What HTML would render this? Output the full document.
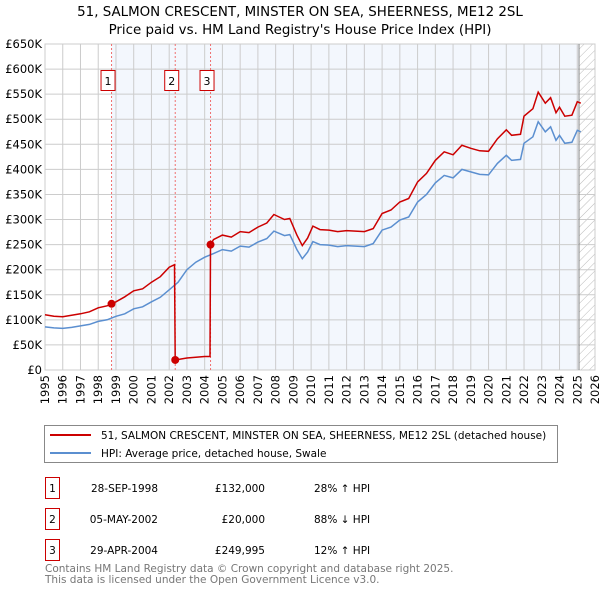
<!DOCTYPE html>
<html><head><meta charset="utf-8"><style>
body{margin:0;background:#fff;}
svg{display:block;font-family:"DejaVu Sans","Liberation Sans",sans-serif;}
</style></head><body>
<svg id="chart" width="600" height="590" viewBox="0 0 600 590">
<defs>
<pattern id="hatch" width="6" height="6" patternUnits="userSpaceOnUse" patternTransform="rotate(45)">
<line x1="0" y1="0" x2="0" y2="6" stroke="#bbb" stroke-width="1"/>
</pattern>
</defs>
<text x="300" y="16" text-anchor="middle" font-size="13.4" fill="#000">51, SALMON CRESCENT, MINSTER ON SEA, SHEERNESS, ME12 2SL</text>
<text x="300" y="34" text-anchor="middle" font-size="13.4" fill="#000">Price paid vs. HM Land Registry's House Price Index (HPI)</text>
<g id="plot"></g>
<g>
<rect x="44.5" y="425.5" width="513" height="37" fill="#fff" stroke="#888"/>
<line x1="50" y1="435" x2="91" y2="435" stroke="#cc0000" stroke-width="2"/>
<text x="101" y="439" font-size="10.5">51, SALMON CRESCENT, MINSTER ON SEA, SHEERNESS, ME12 2SL (detached house)</text>
<line x1="50" y1="453" x2="91" y2="453" stroke="#5b8fd0" stroke-width="2"/>
<text x="101" y="457" font-size="10.5">HPI: Average price, detached house, Swale</text>
</g>
<g font-size="10.5">
<rect x="45.5" y="477.5" width="14" height="21" fill="#fff" stroke="#cc0000"/>
<text x="52.5" y="492" text-anchor="middle">1</text>
<text x="158" y="492" text-anchor="end">28-SEP-1998</text>
<text x="265" y="492" text-anchor="end">£132,000</text>
<text x="314" y="492">28% ↑ HPI</text>
<rect x="45.5" y="508.5" width="14" height="21" fill="#fff" stroke="#cc0000"/>
<text x="52.5" y="523" text-anchor="middle">2</text>
<text x="158" y="523" text-anchor="end">05-MAY-2002</text>
<text x="265" y="523" text-anchor="end">£20,000</text>
<text x="314" y="523">88% ↓ HPI</text>
<rect x="45.5" y="539.5" width="14" height="21" fill="#fff" stroke="#cc0000"/>
<text x="52.5" y="554" text-anchor="middle">3</text>
<text x="158" y="554" text-anchor="end">29-APR-2004</text>
<text x="265" y="554" text-anchor="end">£249,995</text>
<text x="314" y="554">12% ↑ HPI</text>
</g>
<text x="45" y="572" font-size="10.5" fill="#777">Contains HM Land Registry data © Crown copyright and database right 2025.</text>
<text x="45" y="583" font-size="10.5" fill="#777">This data is licensed under the Open Government Licence v3.0.</text>
</svg>
<script>
const hpiDates=[1995,1995.5,1996,1996.5,1997,1997.5,1998,1998.5,1999,1999.5,2000,2000.5,2001,2001.5,2002,2002.5,2003,2003.5,2004,2004.5,2005,2005.5,2006,2006.5,2007,2007.5,2007.9,2008.5,2008.8,2009.2,2009.5,2009.8,2010.1,2010.5,2011,2011.5,2012,2012.5,2013,2013.5,2014,2014.5,2015,2015.5,2016,2016.5,2017,2017.5,2018,2018.5,2019,2019.5,2020,2020.5,2021,2021.3,2021.8,2022,2022.5,2022.8,2023.2,2023.5,2023.8,2024,2024.3,2024.7,2025,2025.2];
const hpiValues=[86,84,83,85,88,91,97,100,107,112,122,126,136,145,160,175,200,215,225,232,240,237,247,245,255,262,277,268,270,240,222,235,256,250,249,246,248,247,246,252,279,285,299,305,335,350,373,388,383,400,395,390,389,412,428,418,420,452,465,495,475,485,458,468,452,454,478,475];
const priceDates=[1995,1995.5,1996,1996.5,1997,1997.5,1998,1998.5,1998.75,1999,1999.5,2000,2000.5,2001,2001.5,2002,2002.3,2002.34,2003,2004,2004.3,2004.33,2004.5,2005,2005.5,2006,2006.5,2007,2007.5,2007.9,2008.5,2008.8,2009.2,2009.5,2009.8,2010.1,2010.5,2011,2011.5,2012,2012.5,2013,2013.5,2014,2014.5,2015,2015.5,2016,2016.5,2017,2017.5,2018,2018.5,2019,2019.5,2020,2020.5,2021,2021.3,2021.8,2022,2022.5,2022.8,2023.2,2023.5,2023.8,2024,2024.3,2024.7,2025,2025.2];
const priceValues=[110,107,106,109,112,116,124,128,132,136,146,158,162,175,186,205,210,20,24,27,27,250,260,269,265,276,274,285,293,310,300,302,269,248,263,287,280,279,276,278,277,276,282,312,319,335,342,375,392,418,435,429,448,442,437,436,461,479,468,470,506,521,554,532,543,513,524,506,508,535,532];
const saleDates=[1998.75,2002.34,2004.33];
const saleValues=[132,20,250];
const saleLabels=["1","2","3"];
const yTicks=[0,50,100,150,200,250,300,350,400,450,500,550,600,650];
const yTickLabels=["£0","£50K","£100K","£150K","£200K","£250K","£300K","£350K","£400K","£450K","£500K","£550K","£600K","£650K"];
const xTicks=[1995,1996,1997,1998,1999,2000,2001,2002,2003,2004,2005,2006,2007,2008,2009,2010,2011,2012,2013,2014,2015,2016,2017,2018,2019,2020,2021,2022,2023,2024,2025,2026];

const L=45,R=595,T=44,B=370,X0=1995,X1=2026,YMAX=650;
const xs=v=>L+(v-X0)/(X1-X0)*(R-L);
const ys=v=>B-v/YMAX*(B-T);
const NS="http://www.w3.org/2000/svg";
const g=document.getElementById('plot');
function mk(tag,attrs,parent){const e=document.createElementNS(NS,tag);for(const k in attrs)e.setAttribute(k,attrs[k]);(parent||g).appendChild(e);return e;}

const shade=mk('rect',{x:xs(saleDates[0]),y:T,width:xs(2025.1)-xs(saleDates[0]),height:B-T,fill:'#eef3fc',opacity:0.7});


const hatch=mk('rect',{x:xs(2025.1),y:T,width:R-xs(2025.1),height:B-T,fill:'url(#hatch)'});



yTicks.forEach((v,i)=>{
  const ln=mk('line',{x1:L,x2:R,y1:ys(v),y2:ys(v),stroke:'#ccc','stroke-width':1});
  
  
  const t=mk('text',{x:L-3,y:ys(v)+4,'text-anchor':'end','font-size':11.5});
  t.textContent=yTickLabels[i];
  
  
});
xTicks.forEach(v=>{
  const ln=mk('line',{x1:xs(v),x2:xs(v),y1:T,y2:B,stroke:'#ccc','stroke-width':1});
  
  
  const t=mk('text',{x:0,y:0,'text-anchor':'end','font-size':11.5,transform:`translate(${xs(v)+4},${B+5}) rotate(-90)`});
  t.textContent=v;
  
  
});
const ax=mk('rect',{x:L,y:T,width:R-L,height:B-T,fill:'none',stroke:'#ccc'});


const nowLine=mk('line',{x1:xs(2025.1),x2:xs(2025.1),y1:T,y2:B,stroke:'#888','stroke-width':1});



saleDates.forEach((d,i)=>{
  const ln=mk('line',{x1:xs(d),x2:xs(d),y1:T,y2:B,stroke:'#f07070','stroke-width':1,'stroke-dasharray':'2,2'});
  
  
  const bx=mk('rect',{x:xs(d)-10.5,y:70.5,width:14,height:20,fill:'#fff',stroke:'#cc0000'});
  
  
  const t=mk('text',{x:xs(d)-3.5,y:85,'text-anchor':'middle','font-size':11});
  t.textContent=saleLabels[i];
  
  
});

const hp=mk('path',{d:hpiDates.map((d,i)=>(i?'L':'M')+xs(d).toFixed(1)+','+ys(hpiValues[i]).toFixed(1)).join(''),fill:'none',stroke:'#5b8fd0','stroke-width':1.5});


const pp=mk('path',{d:priceDates.map((d,i)=>(i?'L':'M')+xs(d).toFixed(1)+','+ys(priceValues[i]).toFixed(1)).join(''),fill:'none',stroke:'#cc0000','stroke-width':1.5});


saleDates.forEach((d,i)=>{
  const c=mk('circle',{cx:xs(d),cy:ys(saleValues[i]),r:4,fill:'#cc0000'});
  
  
});
</script>
</body></html>
